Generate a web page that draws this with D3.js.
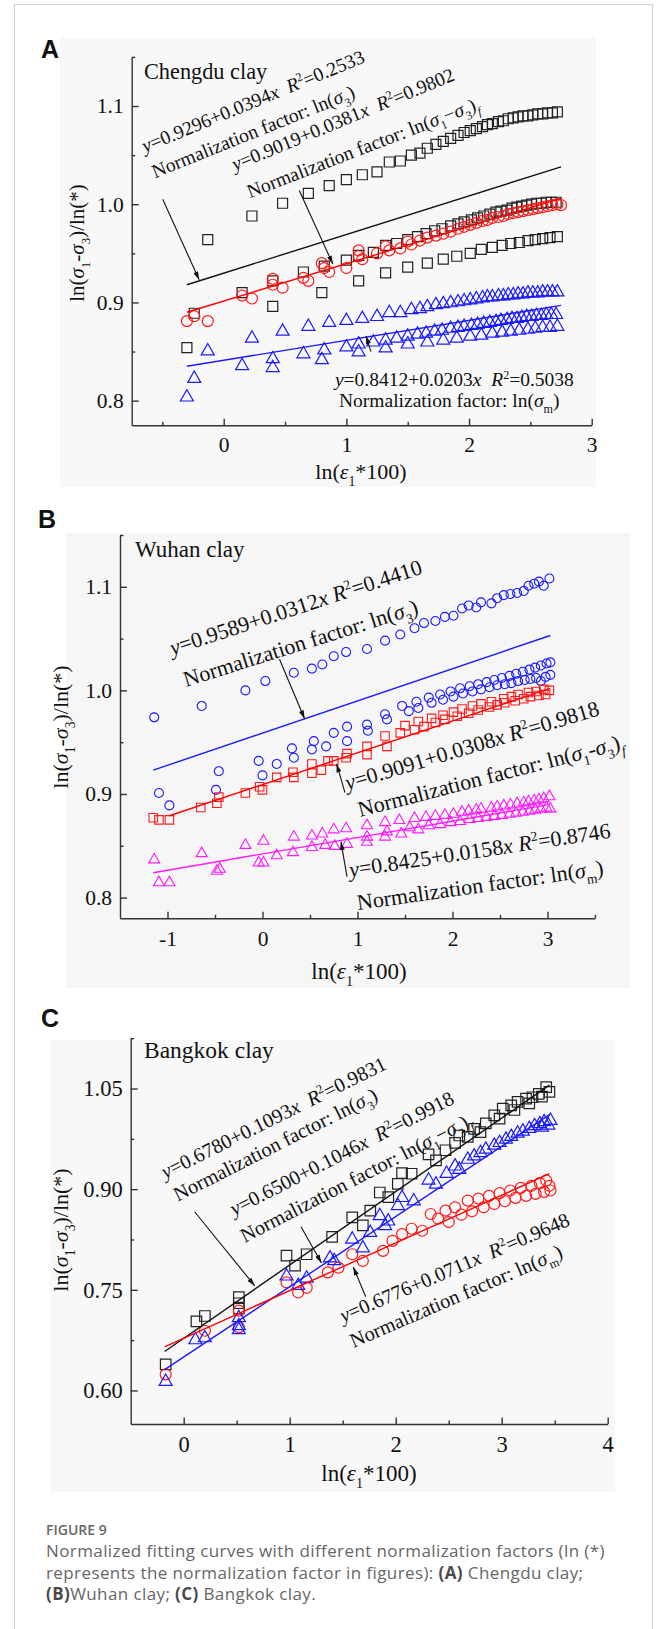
<!DOCTYPE html>
<html>
<head>
<meta charset="utf-8">
<script src="https://cdn.jsdelivr.net/npm/d3@7/dist/d3.min.js"></script>
<style>
  body { margin: 0; background: #fff; }
  text { white-space: pre; }
</style>
</head>
<body>
<svg id="fig" width="656" height="1629"></svg>
<script>
// ---- (A) Chengdu clay ----
const chengduS3a = [[-0.13,0.964],[0.23,0.988],[0.48,1.001],[0.69,1.011],[0.86,1.019],[1.0,1.025],[1.13,1.030],[1.25,1.033],[1.35,1.043],[1.44,1.044],[1.53,1.050],[1.60,1.052],[1.66,1.057],[1.73,1.061],[1.79,1.064],[1.85,1.067],[1.91,1.070],[1.96,1.073],[2.01,1.075],[2.06,1.077],[2.11,1.079],[2.15,1.081],[2.19,1.082],[2.24,1.084],[2.28,1.085],[2.32,1.087],[2.36,1.088],[2.40,1.089],[2.44,1.090],[2.48,1.090],[2.52,1.091],[2.56,1.092],[2.60,1.092],[2.64,1.093],[2.68,1.093],[2.72,1.094]];
const chengduS3b = [[-0.24,0.889],[0.15,0.910],[0.40,0.922],[0.65,0.931],[0.82,0.937],[1.0,0.943],[1.10,0.948],[1.22,0.951],[1.32,0.958],[1.41,0.960],[1.50,0.964],[1.58,0.967],[1.65,0.970],[1.72,0.973],[1.78,0.975],[1.85,0.978],[1.91,0.980],[1.96,0.982],[2.02,0.984],[2.07,0.986],[2.12,0.988],[2.17,0.990],[2.22,0.992],[2.26,0.993],[2.31,0.994],[2.35,0.996],[2.39,0.997],[2.43,0.998],[2.47,0.999],[2.51,1.000],[2.55,1.001],[2.59,1.001],[2.63,1.002],[2.67,1.002],[2.71,1.002]];
const chengduS3c = [[-0.30,0.854],[0.40,0.896],[0.80,0.910],[1.10,0.922],[1.32,0.930],[1.50,0.936],[1.66,0.940],[1.79,0.944],[1.90,0.947],[2.01,0.950],[2.10,0.954],[2.19,0.956],[2.27,0.958],[2.34,0.960],[2.41,0.961],[2.48,0.963],[2.54,0.964],[2.60,0.965],[2.66,0.966],[2.72,0.967]];
const chengduDevF = [[-0.30,0.881],[-0.13,0.881],[-0.24,0.886],[0.15,0.907],[0.23,0.904],[0.40,0.924],[0.48,0.915],[0.40,0.918],[0.65,0.925],[0.69,0.922],[0.80,0.940],[0.86,0.931],[0.82,0.935],[1.0,0.935],[1.10,0.953],[1.13,0.944],[1.10,0.947],[1.25,0.950],[1.32,0.957],[1.35,0.953],[1.44,0.955],[1.50,0.962],[1.53,0.959],[1.60,0.963],[1.66,0.966],[1.73,0.968],[1.79,0.970],[1.85,0.972],[1.91,0.975],[1.96,0.977],[2.01,0.979],[2.06,0.981],[2.11,0.983],[2.15,0.984],[2.19,0.986],[2.24,0.987],[2.28,0.988],[2.32,0.990],[2.36,0.991],[2.40,0.992],[2.44,0.993],[2.48,0.994],[2.52,0.995],[2.56,0.996],[2.60,0.997],[2.64,0.998],[2.68,0.999],[2.72,1.000],[2.75,0.999]];
const chengduSmA = [[-0.13,0.851],[0.23,0.864],[0.48,0.871],[0.69,0.876],[0.86,0.880],[1.0,0.882],[1.13,0.884],[1.25,0.886],[1.35,0.890],[1.44,0.890],[1.53,0.893],[1.60,0.894],[1.66,0.896],[1.73,0.898],[1.79,0.899],[1.85,0.900],[1.91,0.901],[1.96,0.902],[2.01,0.903],[2.06,0.904],[2.11,0.905],[2.15,0.906],[2.19,0.906],[2.24,0.907],[2.28,0.907],[2.32,0.908],[2.36,0.908],[2.40,0.909],[2.44,0.909],[2.48,0.910],[2.52,0.910],[2.56,0.910],[2.60,0.911],[2.64,0.911],[2.68,0.911],[2.72,0.911]];
const chengduSmB = [[-0.24,0.823],[0.15,0.836],[0.40,0.843],[0.65,0.848],[0.82,0.852],[1.0,0.855],[1.10,0.858],[1.22,0.860],[1.32,0.862],[1.41,0.864],[1.50,0.866],[1.58,0.868],[1.65,0.869],[1.72,0.871],[1.78,0.872],[1.85,0.874],[1.91,0.875],[1.96,0.876],[2.02,0.877],[2.07,0.878],[2.12,0.879],[2.17,0.880],[2.22,0.881],[2.26,0.882],[2.31,0.883],[2.35,0.884],[2.39,0.884],[2.43,0.885],[2.47,0.886],[2.51,0.886],[2.55,0.887],[2.59,0.887],[2.63,0.888],[2.67,0.888],[2.71,0.888]];
const chengduSmC = [[-0.30,0.804],[0.40,0.834],[0.80,0.842],[1.10,0.850],[1.32,0.854],[1.50,0.858],[1.66,0.860],[1.79,0.862],[1.90,0.864],[2.01,0.866],[2.10,0.867],[2.19,0.869],[2.27,0.870],[2.34,0.871],[2.41,0.872],[2.48,0.873],[2.54,0.874],[2.60,0.875],[2.66,0.875],[2.72,0.876]];
const fitChengduS3 = [[-0.30,0.918],[2.75,1.038]];
const fitChengduDevF = [[-0.30,0.890],[2.75,1.006]];
const fitChengduSm = [[-0.30,0.835],[2.75,0.897]];

// ---- (B) Wuhan clay ----
const wuhanS3a = [[-1.14,0.974],[-0.64,0.985],[-0.18,1.000],[0.03,1.009],[0.33,1.017],[0.52,1.021],[0.63,1.025],[0.75,1.033],[0.88,1.037],[1.10,1.040],[1.29,1.048],[1.45,1.054],[1.60,1.060],[1.70,1.065],[1.82,1.067],[1.92,1.071],[2.01,1.072],[2.10,1.079],[2.17,1.082],[2.25,1.080],[2.30,1.085],[2.41,1.084],[2.47,1.089],[2.54,1.092],[2.61,1.093],[2.68,1.094],[2.75,1.096],[2.80,1.101],[2.86,1.103],[2.91,1.105],[2.96,1.101],[3.02,1.108]];
const wuhanS3b = [[-1.09,0.901],[-0.49,0.904],[-0.04,0.932],[0.15,0.929],[0.31,0.944],[0.52,0.943],[0.67,0.946],[0.89,0.951],[1.10,0.967],[1.31,0.972],[1.47,0.985],[1.62,0.989],[1.75,0.993],[1.87,0.996],[1.98,0.999],[2.08,1.002],[2.18,1.004],[2.27,1.006],[2.36,1.008],[2.44,1.010],[2.52,1.012],[2.60,1.014],[2.67,1.016],[2.74,1.018],[2.81,1.020],[2.87,1.022],[2.93,1.024],[2.99,1.026],[3.03,1.027]];
const wuhanS3c = [[-0.98,0.889],[-0.46,0.922],[0.0,0.918],[0.33,0.935],[0.54,0.951],[0.75,0.959],[0.89,0.965],[1.11,0.961],[1.29,0.977],[1.54,0.980],[1.64,0.983],[1.78,0.988],[1.90,0.991],[2.01,0.994],[2.11,0.997],[2.21,0.999],[2.30,1.001],[2.39,1.003],[2.47,1.005],[2.55,1.006],[2.62,1.007],[2.69,1.009],[2.76,1.010],[2.82,1.011],[2.88,1.012],[2.93,1.009],[2.98,1.013],[3.03,1.015]];
const wuhanDevF = [[-1.15,0.877],[-1.09,0.875],[-0.98,0.875],[-0.65,0.887],[-0.48,0.891],[-0.46,0.897],[-0.18,0.901],[-0.03,0.907],[0.0,0.904],[0.15,0.916],[0.32,0.921],[0.33,0.916],[0.52,0.929],[0.52,0.920],[0.62,0.923],[0.69,0.932],[0.75,0.932],[0.88,0.935],[0.89,0.939],[1.10,0.946],[1.10,0.938],[1.29,0.956],[1.31,0.946],[1.45,0.959],[1.50,0.966],[1.60,0.962],[1.64,0.970],[1.70,0.965],[1.78,0.973],[1.82,0.969],[1.90,0.976],[1.92,0.972],[2.01,0.979],[2.05,0.975],[2.10,0.982],[2.17,0.978],[2.21,0.985],[2.27,0.981],[2.30,0.987],[2.39,0.984],[2.41,0.989],[2.47,0.986],[2.54,0.992],[2.55,0.988],[2.62,0.994],[2.66,0.990],[2.69,0.996],[2.75,0.992],[2.80,0.998],[2.82,0.994],[2.88,0.999],[2.91,0.995],[2.96,1.001],[2.98,0.996],[3.02,1.000]];
const wuhanSm = [[-1.14,0.837],[-1.09,0.815],[-0.98,0.815],[-0.64,0.843],[-0.48,0.826],[-0.45,0.828],[-0.18,0.851],[-0.04,0.834],[0.01,0.855],[0.01,0.834],[0.15,0.841],[0.33,0.859],[0.32,0.844],[0.52,0.860],[0.52,0.849],[0.63,0.862],[0.66,0.851],[0.75,0.866],[0.76,0.850],[0.88,0.867],[0.89,0.852],[1.10,0.870],[1.10,0.859],[1.10,0.854],[1.29,0.873],[1.29,0.859],[1.31,0.864],[1.44,0.875],[1.46,0.862],[1.55,0.868],[1.60,0.877],[1.64,0.866],[1.72,0.878],[1.75,0.870],[1.82,0.879],[1.87,0.871],[1.92,0.880],[1.98,0.873],[2.01,0.881],[2.08,0.874],[2.10,0.883],[2.18,0.876],[2.17,0.884],[2.27,0.877],[2.25,0.885],[2.36,0.878],[2.30,0.886],[2.44,0.879],[2.41,0.887],[2.52,0.880],[2.47,0.888],[2.60,0.881],[2.54,0.889],[2.67,0.882],[2.61,0.890],[2.74,0.883],[2.68,0.891],[2.81,0.884],[2.75,0.892],[2.87,0.885],[2.80,0.893],[2.93,0.886],[2.86,0.894],[2.99,0.887],[2.91,0.895],[2.96,0.896],[3.02,0.898],[3.03,0.886]];
const fitWuhanS3 = [[-1.15,0.923],[3.03,1.053]];
const fitWuhanDevF = [[-0.98,0.879],[3.03,1.002]];
const fitWuhanSm = [[-1.15,0.824],[3.03,0.890]];

// ---- (C) Bangkok clay ----
const bangkokS3 = [[-0.17,0.639],[0.12,0.703],[0.20,0.711],[0.52,0.739],[0.52,0.730],[0.52,0.722],[0.97,0.801],[1.05,0.786],[1.16,0.803],[1.40,0.829],[1.59,0.858],[1.69,0.846],[1.76,0.868],[1.85,0.895],[1.93,0.888],[2.02,0.908],[2.06,0.924],[2.15,0.923],[2.31,0.952],[2.38,0.943],[2.47,0.958],[2.56,0.969],[2.60,0.980],[2.68,0.978],[2.74,0.990],[2.80,0.985],[2.85,0.998],[2.93,1.010],[2.98,1.005],[3.01,1.020],[3.09,1.025],[3.12,1.018],[3.15,1.030],[3.23,1.035],[3.26,1.028],[3.29,1.037],[3.35,1.042],[3.38,1.038],[3.42,1.052],[3.45,1.045]];
const bangkokDevF = [[-0.17,0.614],[0.11,0.676],[0.20,0.679],[0.52,0.691],[0.52,0.709],[0.52,0.697],[0.97,0.771],[1.08,0.757],[1.16,0.768],[1.38,0.798],[1.42,0.794],[1.59,0.826],[1.69,0.813],[1.76,0.836],[1.85,0.861],[1.90,0.846],[1.93,0.853],[2.06,0.888],[2.02,0.876],[2.17,0.883],[2.31,0.914],[2.38,0.908],[2.48,0.924],[2.56,0.935],[2.60,0.930],[2.68,0.945],[2.74,0.950],[2.80,0.955],[2.85,0.960],[2.93,0.966],[2.98,0.970],[3.04,0.975],[3.09,0.979],[3.15,0.984],[3.20,0.987],[3.26,0.991],[3.31,0.995],[3.36,0.998],[3.40,1.001],[3.46,1.003],[3.38,0.993],[3.44,0.996]];
const bangkokSm = [[-0.17,0.624],[0.20,0.689],[0.52,0.719],[0.52,0.694],[0.97,0.761],[1.08,0.746],[1.16,0.753],[1.36,0.776],[1.46,0.783],[1.59,0.803],[1.69,0.793],[1.88,0.808],[1.97,0.823],[2.06,0.833],[2.15,0.841],[2.25,0.838],[2.33,0.863],[2.40,0.856],[2.47,0.868],[2.50,0.851],[2.56,0.873],[2.62,0.862],[2.68,0.883],[2.72,0.867],[2.78,0.886],[2.83,0.873],[2.88,0.890],[2.93,0.878],[2.98,0.894],[3.03,0.882],[3.08,0.898],[3.13,0.887],[3.18,0.902],[3.23,0.890],[3.28,0.905],[3.32,0.893],[3.36,0.909],[3.40,0.896],[3.42,0.913],[3.46,0.898],[3.45,0.905]];
const fitBangkokS3 = [[-0.18,0.658],[3.45,1.055]];
const fitBangkokDevF = [[-0.18,0.631],[3.45,1.011]];
const fitBangkokSm = [[-0.18,0.665],[3.45,0.923]];

// ticks
const xTicksA = [0, 1, 2, 3], xMinorA = [-0.5, 0.5, 1.5, 2.5];
const yTicksA = [0.8, 0.9, 1.0, 1.1], yMinorA = [0.85, 0.95, 1.05, 1.15];
const xTicksB = [-1, 0, 1, 2, 3], xMinorB = [-0.5, 0.5, 1.5, 2.5, 3.5];
const yTicksB = [0.8, 0.9, 1.0, 1.1], yMinorB = [0.85, 0.95, 1.05, 1.15];
const xTicksC = [0, 1, 2, 3, 4], xMinorC = [0.5, 1.5, 2.5, 3.5];
const yTicksC = [0.60, 0.75, 0.90, 1.05], yMinorC = [0.675, 0.825, 0.975, 1.125];

const captionLines = [
    [["Normalized fitting curves with different normalization factors (ln (*)"]],
    [["represents the normalization factor in figures): "], ["(A)", 1], [" Chengdu clay;"]],
    [["(B)", 1], ["Wuhan clay; "], ["(C)", 1], [" Bangkok clay."]]
];

const serif = "'Liberation Serif', 'Times New Roman', serif";
const svg = d3.select("#fig");

// text pieces: [string, style] with style "i", "sub", "isub", "sup"
function eq(a, b, r, gap) {
    return [["y", "i"], ["=" + a + "+" + b], ["x", "i"], [gap], ["R", "i"], ["2", "sup"], ["=" + r]];
}
const fac3 = [["Normalization factor: ln("], ["σ", "i"], ["3", "sub"], [")"]];
const facM = [["Normalization factor: ln("], ["σ", "i"], ["m", "sub"], [")"]];
function facDev(dash) {
    return [["Normalization factor: ln("], ["σ", "i"], ["1", "sub"], [dash], ["σ", "i"], ["3", "sub"], [")"], ["f", "isub"]];
}
const yTitle = [["ln("], ["σ", "i"], ["1", "sub"], ["-"], ["σ", "i"], ["3", "sub"], [")/ln(*)"]];
const xTitle = [["ln("], ["ε", "i"], ["1", "sub"], ["*100)"]];

function richText(text, parts, size) {
    let shift = 0;
    parts.forEach(([t, st = ""]) => {
        let target = 0;
        if (st.endsWith("sub")) target = size * 0.3;
        if (st === "sup") target = -size * 0.38;
        const span = text.append("tspan").attr("dy", target - shift).text(t);
        if (target !== 0) span.attr("font-size", size * 0.62);
        if (st.startsWith("i")) span.attr("font-style", "italic");
        shift = target;
    });
}

function markerPath(shape, s) {
    if (shape === "square") return `M${-s / 2},${-s / 2}h${s}v${s}h${-s}Z`;
    if (shape === "triangle") {
        const h = s * 0.87;
        return `M0,${-h * 0.62}L${s / 2},${h * 0.38}L${-s / 2},${h * 0.38}Z`;
    }
    return d3.symbol(d3.symbolCircle, Math.PI * s * s / 4)();
}

svg.append("defs").append("marker")
    .attr("id", "head").attr("viewBox", "0 0 10 6")
    .attr("refX", 10).attr("refY", 3)
    .attr("markerWidth", 9).attr("markerHeight", 5)
    .attr("markerUnits", "userSpaceOnUse").attr("orient", "auto")
    .append("path").attr("d", "M0,0L10,3L0,6Z").attr("fill", "#111");

// card border
svg.append("rect").attr("x", 14.5).attr("y", 4.5).attr("width", 638).attr("height", 1700)
    .attr("fill", "none").attr("stroke", "#cfcfcf");

function drawPanel(p) {
    const g = svg.append("g");
    g.append("rect").attr("x", p.bg[0]).attr("y", p.bg[1]).attr("width", p.bg[2]).attr("height", p.bg[3])
        .attr("fill", p.bgColor);
    g.append("text").attr("x", p.letterPos[0]).attr("y", p.letterPos[1])
        .attr("font-family", "'Liberation Sans', Arial, sans-serif").attr("font-weight", "bold")
        .attr("font-size", 25).attr("fill", "#111").text(p.name);

    const x = d3.scaleLinear().domain(p.xDomain).range(p.xRange);
    const y = d3.scaleLinear().domain(p.yDomain).range(p.yRange);

    // points
    p.series.forEach(s => {
        g.append("g").selectAll("path").data(s.data).join("path")
            .attr("transform", d => `translate(${x(d[0])},${y(d[1])})`)
            .attr("d", markerPath(s.shape, s.size))
            .attr("fill", "none").attr("stroke", s.color).attr("stroke-width", p.markerStroke);
    });

    // fitted lines
    const line = d3.line().x(d => x(d[0])).y(d => y(d[1]));
    p.fits.forEach(f => {
        g.append("path").attr("d", line(f.data)).attr("fill", "none")
            .attr("stroke", f.color).attr("stroke-width", 1.4);
    });

    // axes, ticks pointing inwards
    const y0 = p.yRange[0], x0 = p.xRange[0];
    g.append("g").attr("transform", `translate(0,${y0})`)
        .call(d3.axisBottom(x).tickValues(p.xTicks).tickFormat(d => String(d))
            .tickSize(-6.5).tickSizeOuter(0).tickPadding(12));
    g.append("g").attr("transform", `translate(0,${y0})`)
        .call(d3.axisBottom(x).tickValues(p.xMinor).tickFormat("").tickSize(-3.5).tickSizeOuter(0))
        .call(a => a.select(".domain").remove());
    g.append("g").attr("transform", `translate(${x0},0)`)
        .call(d3.axisLeft(y).tickValues(p.yTicks).tickFormat(d3.format(p.yFmt))
            .tickSize(-7).tickSizeOuter(0).tickPadding(8));
    g.append("g").attr("transform", `translate(${x0},0)`)
        .call(d3.axisLeft(y).tickValues(p.yMinor).tickFormat("").tickSize(-3.5).tickSizeOuter(0))
        .call(a => a.select(".domain").remove());
    g.selectAll(".domain, .tick line").attr("stroke", "#333").attr("stroke-width", 1.4);
    g.selectAll(".tick text").attr("font-family", serif).attr("font-size", p.tickFont).attr("fill", "#111");

    // arrows
    p.arrows.forEach(a => {
        g.append("line").attr("x1", x(a[0])).attr("y1", y(a[1])).attr("x2", x(a[2])).attr("y2", y(a[3]))
            .attr("stroke", "#111").attr("stroke-width", 1.1).attr("marker-end", "url(#head)");
    });

    // equation notes
    p.notes.forEach(n => {
        const t = g.append("text")
            .attr("transform", `translate(${x(n.at[0])},${y(n.at[1])}) rotate(${n.angle})`)
            .attr("font-family", serif).attr("font-size", p.noteFont).attr("fill", "#111");
        richText(t, n.parts, p.noteFont);
    });

    g.append("text").attr("x", p.clayPos[0]).attr("y", p.clayPos[1])
        .attr("font-family", serif).attr("font-size", p.clayFont).attr("fill", "#111").text(p.clay);

    const yt = g.append("text")
        .attr("transform", `translate(${p.yTitlePos[0]},${p.yTitlePos[1]}) rotate(-90)`)
        .attr("text-anchor", "middle").attr("font-family", serif).attr("font-size", p.titleFont).attr("fill", "#111");
    richText(yt, yTitle, p.titleFont);
    const xt = g.append("text").attr("x", p.xTitlePos[0]).attr("y", p.xTitlePos[1])
        .attr("text-anchor", "middle").attr("font-family", serif).attr("font-size", p.titleFont + 1).attr("fill", "#111");
    richText(xt, xTitle, p.titleFont + 1);
}

const panels = [
    {
        name: "A", clay: "Chengdu clay",
        xDomain: [-0.75, 3], xRange: [131.7, 591.7],
        yDomain: [0.775, 1.15], yRange: [425.2, 56.9],
        xTicks: xTicksA, xMinor: xMinorA, yTicks: yTicksA, yMinor: yMinorA, yFmt: ".1f",
        bg: [60, 38, 536, 449], bgColor: "#f8f8f8",
        letterPos: [41, 58], clayPos: [144, 79], yTitlePos: [84, 243], xTitlePos: [361, 479],
        tickFont: 21.5, noteFont: 19.5, clayFont: 22.3, titleFont: 21,
        markerStroke: 1.2,
        series: [
            { data: chengduS3a, shape: "square", color: "#222", size: 10 },
            { data: chengduS3b, shape: "square", color: "#222", size: 10 },
            { data: chengduS3c, shape: "square", color: "#222", size: 10 },
            { data: chengduSmA, shape: "triangle", color: "#1a1aff", size: 13 },
            { data: chengduSmB, shape: "triangle", color: "#1a1aff", size: 13 },
            { data: chengduSmC, shape: "triangle", color: "#1a1aff", size: 13 },
            { data: chengduDevF, shape: "circle", color: "#ff1a1a", size: 11 }
        ],
        fits: [
            { data: fitChengduS3, color: "#111" },
            { data: fitChengduDevF, color: "#ff0000" },
            { data: fitChengduSm, color: "#1a1aff" }
        ],
        arrows: [[-0.497, 1.005, -0.20, 0.923], [0.616, 1.014, 0.89, 0.939], [1.20, 0.850, 1.16, 0.866]],
        notes: [
            { at: [-0.641, 1.0523], angle: -22.4, parts: eq("0.9296", "0.0394", "0.2533", "  ") },
            { at: [-0.560, 1.0263], angle: -22, parts: fac3 },
            { at: [0.093, 1.0337], angle: -22.5, parts: eq("0.9019", "0.0381", "0.9802", "  ") },
            { at: [0.214, 1.006], angle: -21.2, parts: facDev("−") },
            { at: [0.907, 0.8149], angle: 0, parts: eq("0.8412", "0.0203", "0.5038", "  ") },
            { at: [0.940, 0.7935], angle: 0, parts: facM }
        ]
    },
    {
        name: "B", clay: "Wuhan clay",
        xDomain: [-1.5, 3.5], xRange: [120, 595],
        yDomain: [0.78, 1.15], yRange: [918.3, 535],
        xTicks: xTicksB, xMinor: xMinorB, yTicks: yTicksB, yMinor: yMinorB, yFmt: ".1f",
        bg: [66, 533, 564, 455], bgColor: "#f6f6f6",
        letterPos: [38, 528], clayPos: [135, 557], yTitlePos: [68, 727], xTitlePos: [359, 979],
        tickFont: 21.5, noteFont: 22, clayFont: 23, titleFont: 22,
        markerStroke: 1.1,
        series: [
            { data: wuhanS3a, shape: "circle", color: "#1a1aff", size: 9 },
            { data: wuhanS3b, shape: "circle", color: "#1a1aff", size: 9 },
            { data: wuhanS3c, shape: "circle", color: "#1a1aff", size: 9 },
            { data: wuhanSm, shape: "triangle", color: "#ff1aff", size: 11 },
            { data: wuhanDevF, shape: "square", color: "#ff1a1a", size: 8.5 }
        ],
        fits: [
            { data: fitWuhanS3, color: "#1a1aff" },
            { data: fitWuhanDevF, color: "#ff0000" },
            { data: fitWuhanSm, color: "#ff1aff" }
        ],
        arrows: [[0.179, 1.030, 0.443, 0.9727], [0.868, 0.9013, 0.78, 0.929], [0.889, 0.8203, 0.826, 0.854]],
        notes: [
            { at: [-0.947, 1.0338], angle: -18.1, parts: eq("0.9589", "0.0312", "0.4410", " ") },
            { at: [-0.805, 1.0033], angle: -17.5, parts: fac3 },
            { at: [0.896, 0.9035], angle: -16.6, parts: eq("0.9091", "0.0308", "0.9818", " ") },
            { at: [1.026, 0.8778], angle: -14.5, parts: facDev("-") },
            { at: [0.924, 0.8197], angle: -8.6, parts: eq("0.8425", "0.0158", "0.8746", " ") },
            { at: [1.005, 0.788], angle: -8.1, parts: facM }
        ]
    },
    {
        name: "C", clay: "Bangkok clay",
        xDomain: [-0.5, 4], xRange: [130.7, 607.7],
        yDomain: [0.55, 1.125], yRange: [1424, 1038.2],
        xTicks: xTicksC, xMinor: xMinorC, yTicks: yTicksC, yMinor: yMinorC, yFmt: ".2f",
        bg: [50, 1040, 565, 452], bgColor: "#f8f8f8",
        letterPos: [41, 1027], clayPos: [144, 1058], yTitlePos: [68, 1230], xTitlePos: [369, 1481],
        tickFont: 22.5, noteFont: 20.3, clayFont: 23.5, titleFont: 22,
        markerStroke: 1.2,
        series: [
            { data: bangkokS3, shape: "square", color: "#222", size: 10.5 },
            { data: bangkokSm, shape: "circle", color: "#ff1a1a", size: 11 },
            { data: bangkokDevF, shape: "triangle", color: "#1a1aff", size: 13 }
        ],
        fits: [
            { data: fitBangkokS3, color: "#111" },
            { data: fitBangkokDevF, color: "#1a1aff" },
            { data: fitBangkokSm, color: "#ff0000" }
        ],
        arrows: [[0.103, 0.8663, 0.67, 0.756], [1.107, 0.844, 1.30, 0.79], [1.717, 0.7397, 1.60, 0.784]],
        notes: [
            { at: [-0.173, 0.9151], angle: -26.4, parts: eq("0.6780", "0.1093", "0.9831", "  ") },
            { at: [-0.056, 0.8813], angle: -26.9, parts: fac3 },
            { at: [0.478, 0.86], angle: -27.1, parts: eq("0.6500", "0.1046", "0.9918", "  ") },
            { at: [0.576, 0.8198], angle: -27.3, parts: facDev("−") },
            { at: [1.506, 0.701], angle: -23.2, parts: eq("0.6776", "0.0711", "0.9648", "  ") },
            { at: [1.603, 0.6633], angle: -23.4, parts: facM }
        ]
    }
];

panels.forEach(drawPanel);

// caption
const cap = svg.append("g").attr("font-family", "'Open Sans', 'Noto Sans', sans-serif").attr("fill", "#666");
cap.append("text").attr("x", 46).attr("y", 1535).attr("font-size", 14).attr("font-weight", 600).text("FIGURE 9");
captionLines.forEach((row, i) => {
    const t = cap.append("text").attr("x", 46).attr("y", 1557 + i * 21.6)
        .attr("font-size", 17).attr("letter-spacing", 0.4);
    row.forEach(([s, b]) => {
        t.append("tspan").attr("font-weight", b ? 700 : 400).attr("fill", b ? "#4a4a4a" : null).text(s);
    });
});
</script>
</body>
</html>
